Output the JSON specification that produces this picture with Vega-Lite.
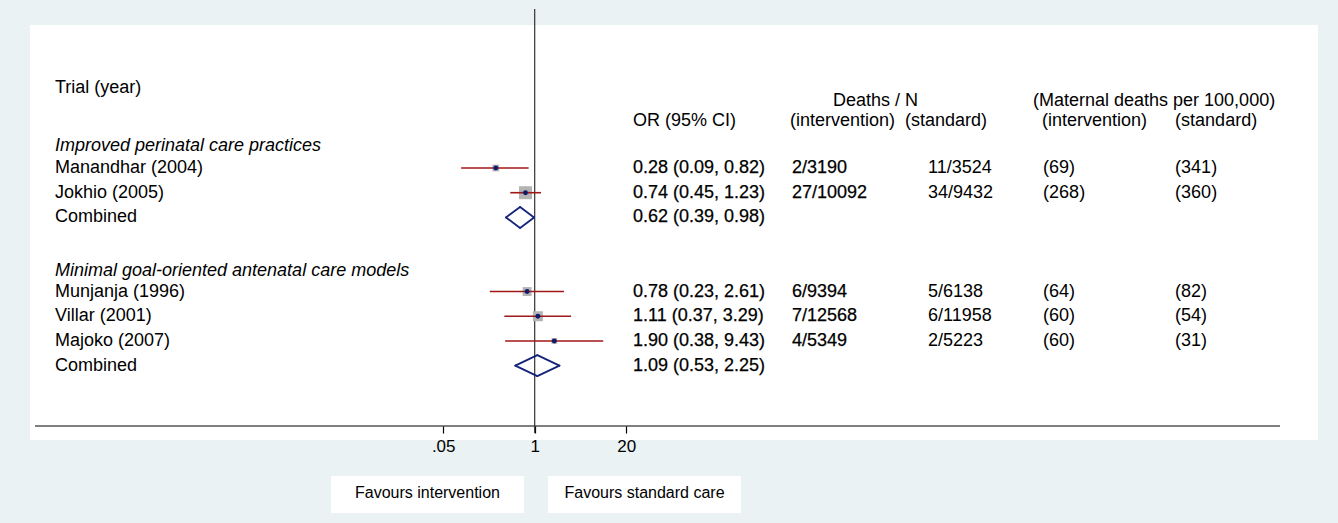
{
  "$schema": "https://vega.github.io/schema/vega-lite/v6.json",
  "width": 1288,
  "height": 415,
  "autosize": {"type": "none"},
  "padding": {"left": 30, "top": 25, "right": 20, "bottom": 83},
  "background": "#eaf2f3",
  "config": {
    "view": {"fill": "white", "stroke": null},
    "text": {"font": "Liberation Sans", "fontSize": 18, "fill": "#000"}
  },
  "datasets": {
    "trials": [
      {"label": "Improved perinatal care practices", "row": 1.12, "kind": "group"},
      {"label": "Manandhar (2004)", "row": 2, "kind": "study", "or": 0.28, "lo": 0.09, "hi": 0.82, "ortext": "0.28 (0.09, 0.82)", "nint": "2/3190", "nstd": "11/3524", "rint": "(69)", "rstd": "(341)", "weight": 21},
      {"label": "Jokhio (2005)", "row": 3, "kind": "study", "or": 0.74, "lo": 0.45, "hi": 1.23, "ortext": "0.74 (0.45, 1.23)", "nint": "27/10092", "nstd": "34/9432", "rint": "(268)", "rstd": "(360)", "weight": 79},
      {"label": "Combined", "row": 4, "kind": "combined", "or": 0.62, "lo": 0.39, "hi": 0.98, "ortext": "0.62 (0.39, 0.98)"},
      {"label": "Minimal goal-oriented antenatal care models", "row": 6.15, "kind": "group"},
      {"label": "Munjanja (1996)", "row": 7, "kind": "study", "or": 0.78, "lo": 0.23, "hi": 2.61, "ortext": "0.78 (0.23, 2.61)", "nint": "6/9394", "nstd": "5/6138", "rint": "(64)", "rstd": "(82)", "weight": 37},
      {"label": "Villar (2001)", "row": 8, "kind": "study", "or": 1.11, "lo": 0.37, "hi": 3.29, "ortext": "1.11 (0.37, 3.29)", "nint": "7/12568", "nstd": "6/11958", "rint": "(60)", "rstd": "(54)", "weight": 47},
      {"label": "Majoko (2007)", "row": 9, "kind": "study", "or": 1.90, "lo": 0.38, "hi": 9.43, "ortext": "1.90 (0.38, 9.43)", "nint": "4/5349", "nstd": "2/5223", "rint": "(60)", "rstd": "(31)", "weight": 15},
      {"label": "Combined", "row": 10, "kind": "combined", "or": 1.09, "lo": 0.53, "hi": 2.25, "ortext": "1.09 (0.53, 2.25)"}
    ],
    "heads": [
      {"text": "Trial (year)", "row": -1.22, "col": "trial"},
      {"text": "Deaths / N", "row": -0.72, "col": "deaths"},
      {"text": "(Maternal deaths per 100,000)", "row": -0.72, "col": "mat"},
      {"text": "OR (95% CI)", "row": 0.1, "col": "or"},
      {"text": "(intervention)", "row": 0.1, "col": "nint"},
      {"text": "(standard)", "row": 0.1, "col": "nstd"},
      {"text": "(intervention)", "row": 0.1, "col": "rint"},
      {"text": "(standard)", "row": 0.1, "col": "rstd"}
    ],
    "favours": [
      {"label": "Favours intervention", "side": "left"},
      {"label": "Favours standard care", "side": "right"}
    ]
  },
  "layer": [
    {
      "data": {"name": "favours"},
      "transform": [{"filter": "datum.side == 'left'"}],
      "mark": {"type": "rect", "fill": "white"},
      "encoding": {
        "x": {"datum": 0.00127, "type": "quantitative", "scale": {"type": "log", "domain": [6.668e-8, 1.3727e11], "nice": false}, "title": null, "axis": {"values": [0.05, 1, 20], "labelExpr": "datum.value < 0.5 ? '.05' : (datum.value < 5 ? '1' : '20')", "domain": false, "grid": false, "ticks": true, "tickSize": 7, "tickColor": "#000", "tickWidth": 1.2, "labelFont": "Liberation Sans", "labelFontSize": 17, "labelColor": "#000", "labelPadding": 5, "offset": -14, "title": null, "labelFlush": false, "labelOverlap": false}},
        "x2": {"datum": 0.7046},
        "y": {"datum": 14.465, "type": "quantitative", "scale": {"domain": [-3.787, 13.008], "reverse": true, "nice": false, "zero": false}, "axis": null},
        "y2": {"datum": 15.962}
      }
    },
    {
      "data": {"name": "favours"},
      "transform": [{"filter": "datum.side == 'right'"}],
      "mark": {"type": "rect", "fill": "white"},
      "encoding": {
        "x": {"datum": 1.546, "type": "quantitative"},
        "x2": {"datum": 859.6},
        "y": {"datum": 14.465, "type": "quantitative"},
        "y2": {"datum": 15.962}
      }
    },
    {
      "data": {"name": "favours"},
      "transform": [{"filter": "datum.side == 'left'"}],
      "mark": {"type": "text", "fontSize": 16, "align": "center", "baseline": "middle"},
      "encoding": {
        "x": {"datum": 0.0299, "type": "quantitative"},
        "y": {"datum": 15.15, "type": "quantitative"},
        "text": {"field": "label"}
      }
    },
    {
      "data": {"name": "favours"},
      "transform": [{"filter": "datum.side == 'right'"}],
      "mark": {"type": "text", "fontSize": 16, "align": "center", "baseline": "middle"},
      "encoding": {
        "x": {"datum": 36.41, "type": "quantitative"},
        "y": {"datum": 15.15, "type": "quantitative"},
        "text": {"field": "label"}
      }
    },
    {
      "data": {"name": "favours"},
      "transform": [{"filter": "datum.side == 'left'"}],
      "mark": {"type": "rule", "stroke": "#000", "strokeWidth": 1.2},
      "encoding": {
        "x": {"datum": 7.852e-8, "type": "quantitative"},
        "x2": {"datum": 3.953e10},
        "y": {"datum": 12.441, "type": "quantitative"}
      }
    },
    {
      "data": {"name": "favours"},
      "transform": [{"filter": "datum.side == 'left'"}],
      "mark": {"type": "rule", "stroke": "#333", "strokeWidth": 1.2},
      "encoding": {
        "x": {"datum": 1, "type": "quantitative"},
        "y": {"datum": -4.435, "type": "quantitative"},
        "y2": {"datum": 12.72}
      }
    },
    {
      "data": {"name": "trials"},
      "transform": [{"filter": "datum.kind == 'study'"}],
      "mark": {"type": "square", "fill": "#b4b4b4", "opacity": 1, "strokeWidth": 0},
      "encoding": {
        "x": {"field": "or", "type": "quantitative"},
        "y": {"field": "row", "type": "quantitative"},
        "size": {"field": "weight", "type": "quantitative", "scale": {"domain": [0, 100], "range": [0, 214]}, "legend": null}
      }
    },
    {
      "data": {"name": "trials"},
      "transform": [{"filter": "datum.kind == 'study'"}],
      "mark": {"type": "rule", "stroke": "#a01818", "strokeWidth": 1.6},
      "encoding": {
        "x": {"field": "lo", "type": "quantitative"},
        "x2": {"field": "hi"},
        "y": {"field": "row", "type": "quantitative"}
      }
    },
    {
      "data": {"name": "trials"},
      "transform": [{"filter": "datum.kind == 'study'"}],
      "mark": {"type": "circle", "fill": "#0d1b6b", "opacity": 1, "size": 24},
      "encoding": {
        "x": {"field": "or", "type": "quantitative"},
        "y": {"field": "row", "type": "quantitative"}
      }
    },
    {
      "data": {"name": "trials"},
      "transform": [{"filter": "datum.kind == 'combined'"}],
      "mark": {"type": "rule", "stroke": "#14237a", "strokeWidth": 1.8, "strokeCap": "round", "y2Offset": -10.5},
      "encoding": {
        "x": {"field": "lo", "type": "quantitative"},
        "x2": {"field": "or"},
        "y": {"field": "row", "type": "quantitative"},
        "y2": {"field": "row"}
      }
    },
    {
      "data": {"name": "trials"},
      "transform": [{"filter": "datum.kind == 'combined'"}],
      "mark": {"type": "rule", "stroke": "#14237a", "strokeWidth": 1.8, "strokeCap": "round", "y2Offset": 10.5},
      "encoding": {
        "x": {"field": "lo", "type": "quantitative"},
        "x2": {"field": "or"},
        "y": {"field": "row", "type": "quantitative"},
        "y2": {"field": "row"}
      }
    },
    {
      "data": {"name": "trials"},
      "transform": [{"filter": "datum.kind == 'combined'"}],
      "mark": {"type": "rule", "stroke": "#14237a", "strokeWidth": 1.8, "strokeCap": "round", "yOffset": -10.5},
      "encoding": {
        "x": {"field": "or", "type": "quantitative"},
        "x2": {"field": "hi"},
        "y": {"field": "row", "type": "quantitative"},
        "y2": {"field": "row"}
      }
    },
    {
      "data": {"name": "trials"},
      "transform": [{"filter": "datum.kind == 'combined'"}],
      "mark": {"type": "rule", "stroke": "#14237a", "strokeWidth": 1.8, "strokeCap": "round", "yOffset": 10.5},
      "encoding": {
        "x": {"field": "or", "type": "quantitative"},
        "x2": {"field": "hi"},
        "y": {"field": "row", "type": "quantitative"},
        "y2": {"field": "row"}
      }
    },
    {
      "data": {"name": "trials"},
      "transform": [{"filter": "datum.kind != 'group'"}],
      "mark": {"type": "text", "align": "left", "baseline": "middle"},
      "encoding": {
        "x": {"datum": 1.511e-7, "type": "quantitative"},
        "y": {"field": "row", "type": "quantitative"},
        "text": {"field": "label"}
      }
    },
    {
      "data": {"name": "trials"},
      "transform": [{"filter": "datum.kind == 'group'"}],
      "mark": {"type": "text", "align": "left", "baseline": "middle", "fontStyle": "italic"},
      "encoding": {
        "x": {"datum": 1.511e-7, "type": "quantitative"},
        "y": {"field": "row", "type": "quantitative"},
        "text": {"field": "label"}
      }
    },
    {
      "data": {"name": "trials"},
      "transform": [{"filter": "datum.kind != 'group'"}],
      "mark": {"type": "text", "align": "left", "baseline": "middle", "stroke": "#000", "strokeWidth": 0.25},
      "encoding": {
        "x": {"datum": 24.98, "type": "quantitative"},
        "y": {"field": "row", "type": "quantitative"},
        "text": {"field": "ortext"}
      }
    },
    {
      "data": {"name": "trials"},
      "transform": [{"filter": "datum.kind == 'study'"}],
      "mark": {"type": "text", "align": "left", "baseline": "middle", "stroke": "#000", "strokeWidth": 0.25},
      "encoding": {
        "x": {"datum": 4556, "type": "quantitative"},
        "y": {"field": "row", "type": "quantitative"},
        "text": {"field": "nint"}
      }
    },
    {
      "data": {"name": "trials"},
      "transform": [{"filter": "datum.kind == 'study'"}],
      "mark": {"type": "text", "align": "left", "baseline": "middle"},
      "encoding": {
        "x": {"datum": 390800, "type": "quantitative"},
        "y": {"field": "row", "type": "quantitative"},
        "text": {"field": "nstd"}
      }
    },
    {
      "data": {"name": "trials"},
      "transform": [{"filter": "datum.kind == 'study'"}],
      "mark": {"type": "text", "align": "left", "baseline": "middle"},
      "encoding": {
        "x": {"datum": 16940000, "type": "quantitative"},
        "y": {"field": "row", "type": "quantitative"},
        "text": {"field": "rint"}
      }
    },
    {
      "data": {"name": "trials"},
      "transform": [{"filter": "datum.kind == 'study'"}],
      "mark": {"type": "text", "align": "left", "baseline": "middle"},
      "encoding": {
        "x": {"datum": 1276000000, "type": "quantitative"},
        "y": {"field": "row", "type": "quantitative"},
        "text": {"field": "rstd"}
      }
    },
    {
      "data": {"name": "heads"},
      "transform": [{"filter": "datum.col == 'trial'"}],
      "mark": {"type": "text", "align": "left", "baseline": "middle"},
      "encoding": {
        "x": {"datum": 1.511e-7, "type": "quantitative"},
        "y": {"field": "row", "type": "quantitative"},
        "text": {"field": "text"}
      }
    },
    {
      "data": {"name": "heads"},
      "transform": [{"filter": "datum.col == 'or'"}],
      "mark": {"type": "text", "align": "left", "baseline": "middle"},
      "encoding": {
        "x": {"datum": 24.98, "type": "quantitative"},
        "y": {"field": "row", "type": "quantitative"},
        "text": {"field": "text"}
      }
    },
    {
      "data": {"name": "heads"},
      "transform": [{"filter": "datum.col == 'deaths'"}],
      "mark": {"type": "text", "align": "left", "baseline": "middle"},
      "encoding": {
        "x": {"datum": 17430, "type": "quantitative"},
        "y": {"field": "row", "type": "quantitative"},
        "text": {"field": "text"}
      }
    },
    {
      "data": {"name": "heads"},
      "transform": [{"filter": "datum.col == 'nint'"}],
      "mark": {"type": "text", "align": "left", "baseline": "middle"},
      "encoding": {
        "x": {"datum": 4266, "type": "quantitative"},
        "y": {"field": "row", "type": "quantitative"},
        "text": {"field": "text"}
      }
    },
    {
      "data": {"name": "heads"},
      "transform": [{"filter": "datum.col == 'nstd'"}],
      "mark": {"type": "text", "align": "left", "baseline": "middle"},
      "encoding": {
        "x": {"datum": 183800, "type": "quantitative"},
        "y": {"field": "row", "type": "quantitative"},
        "text": {"field": "text"}
      }
    },
    {
      "data": {"name": "heads"},
      "transform": [{"filter": "datum.col == 'mat'"}],
      "mark": {"type": "text", "align": "left", "baseline": "middle"},
      "encoding": {
        "x": {"datum": 12167000, "type": "quantitative"},
        "y": {"field": "row", "type": "quantitative"},
        "text": {"field": "text"}
      }
    },
    {
      "data": {"name": "heads"},
      "transform": [{"filter": "datum.col == 'rint'"}],
      "mark": {"type": "text", "align": "left", "baseline": "middle"},
      "encoding": {
        "x": {"datum": 16340000, "type": "quantitative"},
        "y": {"field": "row", "type": "quantitative"},
        "text": {"field": "text"}
      }
    },
    {
      "data": {"name": "heads"},
      "transform": [{"filter": "datum.col == 'rstd'"}],
      "mark": {"type": "text", "align": "left", "baseline": "middle"},
      "encoding": {
        "x": {"datum": 1276000000, "type": "quantitative"},
        "y": {"field": "row", "type": "quantitative"},
        "text": {"field": "text"}
      }
    }
  ]
}
